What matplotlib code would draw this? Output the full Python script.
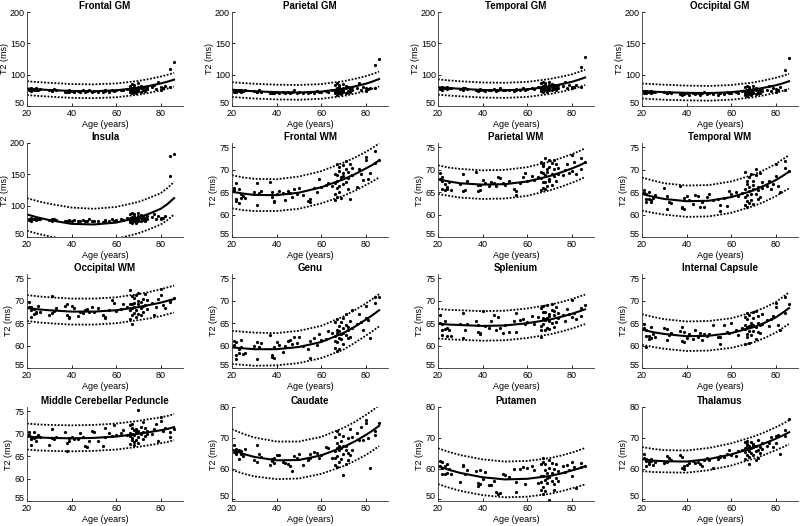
import numpy as np
import matplotlib
matplotlib.use("Agg")
import matplotlib.pyplot as plt
import matplotlib.transforms as mtransforms

plt.rcParams['font.family'] = ['Liberation Sans', 'DejaVu Sans']

# subject ages (shared by all regions)
ages = [21, 21, 22, 22, 22, 23, 23, 24, 24, 25, 26,
        30, 31, 31, 32, 33,
        37, 38, 38, 39, 39, 40, 41,
        43, 44, 45, 46, 47, 48, 49, 50,
        52, 54, 55, 55, 57, 58, 59, 60,
        62, 63, 65,
        66, 66, 66, 66, 67, 67, 67, 67, 67, 68, 68, 68, 68, 69, 69, 69, 70, 70, 70, 70,
        71, 71, 71, 72, 72, 72, 73, 73, 74, 74,
        76, 77, 78, 79, 80, 80, 81, 82, 84, 84, 86]

# T2 values (ms) per region
frontal_gm = [77, 75, 78, 76, 74, 77, 76, 78, 75, 76, 77,
              75, 76, 74, 77, 75,
              73, 74, 72, 75, 73, 74, 72,
              74, 73, 75, 72, 74, 76, 73, 74,
              73, 72, 75, 74, 73, 76, 74, 75,
              76, 75, 77,
              72, 78, 82, 75, 70, 74, 79, 85, 77, 73, 76, 81, 84, 71, 78, 75, 80, 74, 77, 86,
              73, 79, 82, 76, 75, 80, 78, 74, 81, 77,
              80, 84, 77, 88, 75, 81, 79, 82, 109, 80, 121]
parietal_gm = [75, 73, 76, 74, 72, 75, 74, 76, 73, 74, 75,
               74, 73, 72, 75, 73,
               71, 72, 70, 73, 71, 72, 70,
               72, 71, 73, 70, 72, 75, 71, 72,
               71, 70, 73, 72, 71, 74, 72, 73,
               74, 73, 76,
               70, 76, 84, 73, 68, 72, 78, 86, 75, 71, 74, 80, 83, 69, 77, 73, 79, 72, 75, 85,
               71, 78, 82, 74, 73, 80, 77, 72, 81, 76,
               78, 86, 75, 80, 74, 78, 77, 79, 115, 78, 125]
temporal_gm = [79, 77, 80, 78, 76, 79, 78, 80, 77, 78, 79,
               77, 78, 76, 79, 77,
               75, 76, 74, 77, 75, 76, 74,
               76, 75, 77, 74, 76, 78, 75, 76,
               75, 74, 77, 76, 75, 78, 76, 77,
               78, 77, 80,
               74, 80, 86, 77, 72, 76, 82, 88, 79, 75, 78, 84, 86, 73, 80, 77, 83, 76, 79, 88,
               75, 81, 85, 78, 77, 83, 80, 76, 84, 79,
               82, 88, 79, 84, 78, 81, 80, 84, 113, 80, 128]
occipital_gm = [73, 71, 74, 72, 70, 73, 72, 74, 71, 72, 73,
                72, 71, 70, 73, 71,
                69, 70, 68, 71, 69, 70, 68,
                70, 69, 71, 68, 70, 73, 69, 70,
                69, 68, 71, 70, 69, 72, 70, 71,
                72, 71, 74,
                68, 74, 80, 71, 66, 70, 76, 82, 73, 69, 72, 78, 80, 67, 75, 71, 77, 70, 73, 82,
                69, 76, 79, 72, 71, 77, 75, 70, 78, 74,
                76, 82, 74, 78, 72, 77, 75, 80, 107, 76, 127]
insula = [79, 77, 80, 78, 76, 79, 78, 80, 77, 78, 79,
          77, 78, 76, 79, 77,
          75, 76, 74, 77, 75, 76, 77,
          76, 75, 77, 76, 76, 78, 75, 76,
          75, 74, 77, 76, 75, 78, 76, 77,
          78, 77, 80,
          74, 80, 86, 77, 72, 76, 82, 88, 79, 75, 78, 84, 86, 73, 80, 77, 83, 76, 79, 88,
          75, 81, 85, 78, 77, 83, 80, 76, 84, 79,
          82, 86, 79, 84, 78, 81, 80, 84, 147, 180, 183]
frontal_wm = [66.0, 65.5, 63.4, 63.0, 67.1, 65.8, 62.5, 64.6, 63.8, 64.1, 63.7,
              65.0, 62.2, 67.0, 64.9, 65.3,
              67.2, 65.0, 64.0, 63.0, 62.8, 64.7, 65.2,
              64.9, 63.2, 65.3, 64.8, 64.0, 65.8, 64.6, 66.0,
              64.4, 63.0, 63.4, 62.8, 66.0, 65.0, 68.0, 66.2,
              66.6, 67.0, 66.4,
              63.2, 64.5, 69.0, 67.1, 71.3, 65.9, 68.8, 64.0, 67.6, 70.7, 66.4, 69.8, 65.0, 68.4, 63.7, 67.9,
              71.1, 69.3, 66.9, 68.6, 70.3, 67.2, 72.0, 68.1, 65.7, 69.6, 71.2, 63.5, 68.9, 70.4,
              66.2, 70.2, 69.0, 67.7, 72.9, 72.3, 67.9, 69.3, 74.3, 71.5, 72.2]
parietal_wm = [68.0, 69.3, 65.8, 67.5, 68.4, 65.6, 66.9, 66.2, 65.7, 67.2, 65.5,
               66.9, 69.0, 65.3, 65.6, 67.5,
               69.6, 66.7, 65.2, 65.5, 66.6, 67.8, 67.0,
               66.3, 67.3, 67.0, 66.5, 68.4, 68.1, 67.0, 66.7,
               67.4, 65.8, 64.4, 65.2, 67.0, 68.5, 69.2, 67.6,
               68.7, 67.7, 68.3,
               65.5, 69.6, 71.8, 68.2, 66.0, 70.8, 67.3, 69.4, 71.4, 65.8, 68.9, 72.6, 67.2, 70.1, 66.3, 69.5,
               72.2, 68.0, 70.7, 67.5, 69.0, 71.6, 66.6, 68.6, 72.2, 70.3, 67.6, 71.3, 69.1, 70.5,
               68.9, 70.0, 71.2, 69.4, 73.3, 69.8, 71.7, 69.1, 72.6, 70.3, 71.8]
temporal_wm = [64.8, 65.5, 63.4, 64.6, 62.8, 63.6, 65.0, 63.3, 62.9, 63.7, 64.3,
               65.9, 61.2, 64.2, 62.8, 62.5,
               66.5, 61.7, 61.5, 61.2, 63.7, 64.2, 63.3,
               62.4, 64.4, 64.2, 61.8, 62.9, 61.8, 63.9, 64.7,
               63.3, 63.5, 62.2, 60.8, 63.8, 62.0, 65.3, 64.6,
               65.0, 64.1, 64.9,
               62.2, 65.8, 69.6, 63.9, 61.8, 66.9, 64.4, 67.6, 63.1, 65.3, 68.3, 62.5, 66.1, 64.6, 69.1, 63.2,
               65.7, 67.4, 62.3, 66.6, 68.9, 64.5, 70.3, 65.4, 63.6, 66.2, 69.3, 64.0, 67.3, 66.0,
               66.4, 67.6, 65.8, 66.9, 71.2, 68.6, 66.3, 65.1, 71.9, 70.4, 69.8]
occipital_wm = [68.7, 69.7, 66.5, 68.6, 67.9, 68.2, 67.0, 67.5, 67.2, 68.9, 67.6,
                66.8, 71.0, 67.2, 67.8, 68.3,
                68.9, 69.2, 66.9, 66.4, 66.1, 68.8, 68.5,
                66.6, 67.5, 67.2, 67.9, 68.2, 67.4, 68.6, 67.6,
                68.5, 66.9, 66.2, 66.5, 68.0, 70.2, 69.6, 67.8,
                68.1, 69.3, 68.6,
                66.0, 69.2, 72.4, 67.9, 68.4, 71.0, 66.8, 69.3, 64.8, 68.7, 70.6, 67.2, 69.6, 68.0, 71.2, 66.5,
                69.4, 70.0, 67.0, 71.8, 68.3, 69.7, 66.9, 70.5, 68.9, 67.4, 71.5, 69.0, 68.2, 70.3,
                69.5, 66.9, 68.7, 70.5, 72.7, 71.3, 69.0, 68.5, 70.1, 69.8, 70.7]
genu = [60.2, 61.0, 57.8, 60.7, 57.0, 58.4, 59.3, 61.2, 59.7, 58.2, 58.3,
        60.0, 57.0, 60.8, 59.6, 60.6,
        62.3, 58.0, 57.5, 59.8, 57.2, 60.8, 60.1,
        58.6, 59.9, 61.0, 61.3, 60.4, 61.9, 60.6, 62.0,
        59.9, 59.2, 57.3, 61.1, 61.8, 60.1, 62.5, 61.2,
        61.5, 63.2, 62.8,
        59.5, 62.1, 65.2, 61.0, 58.9, 63.6, 60.9, 62.8, 65.9, 61.8, 64.4, 59.3, 63.2, 62.6, 65.3, 61.4,
        63.9, 66.1, 60.4, 62.9, 64.7, 62.3, 67.0, 63.5, 61.7, 64.2, 65.6, 62.0, 68.0, 63.9,
        64.9, 67.1, 65.3, 63.5, 68.8, 66.1, 65.7, 61.8, 70.9, 69.6, 70.8]
splenium = [66.9, 65.0, 62.4, 64.8, 63.6, 65.4, 63.7, 62.2, 64.0, 63.4, 62.1,
            64.9, 61.8, 67.2, 63.4, 64.8,
            65.6, 64.7, 63.0, 62.6, 62.9, 67.7, 64.4,
            64.0, 65.6, 66.8, 63.4, 66.3, 64.0, 62.8, 64.6,
            63.0, 65.4, 63.1, 67.3, 65.8, 66.0, 64.9, 65.2,
            66.6, 64.9, 66.3,
            62.0, 64.3, 68.5, 63.4, 65.9, 67.6, 66.2, 64.8, 68.9, 63.6, 66.0, 65.7, 67.5, 64.0, 69.0, 66.1,
            65.5, 67.0, 63.8, 66.6, 68.0, 65.0, 69.3, 66.8, 64.2, 67.7, 65.3, 68.6, 66.1, 67.2,
            66.8, 65.5, 68.1, 67.0, 70.2, 66.5, 67.3, 65.9, 66.7, 68.4, 69.1]
internal_capsule = [63.9, 64.8, 62.2, 59.7, 63.5, 61.4, 62.1, 64.2, 61.8, 62.7, 62.0,
                    64.0, 61.2, 63.8, 62.4, 62.9,
                    63.3, 64.1, 61.0, 60.8, 63.0, 61.6, 62.5,
                    61.5, 63.4, 62.0, 62.8, 61.2, 62.5, 62.2, 62.6,
                    64.6, 62.0, 60.3, 61.9, 64.5, 63.1, 62.8, 65.0,
                    63.6, 62.4, 64.0,
                    60.3, 63.8, 66.4, 64.5, 61.9, 67.3, 64.2, 62.6, 65.9, 64.4, 60.6, 63.2, 66.9, 64.4, 62.3, 65.1,
                    67.5, 63.3, 64.6, 66.2, 61.4, 64.2, 67.8, 65.0, 63.1, 66.6, 64.5, 62.9, 67.1, 64.8,
                    65.7, 64.3, 66.0, 66.6, 69.6, 68.7, 64.5, 63.6, 70.9, 67.3, 69.3]
mcp = [69.8, 70.5, 67.6, 69.2, 68.9, 70.5, 69.0, 68.5, 69.4, 69.8, 69.3,
       67.5, 71.0, 69.0, 68.8, 69.4,
       70.4, 68.0, 66.1, 69.0, 68.4, 69.2, 68.8,
       68.8, 70.2, 69.3, 67.3, 67.0, 68.3, 70.6, 70.4,
       68.4, 67.2, 69.2, 71.3, 70.3, 69.5, 72.0, 69.8,
       70.1, 70.9, 69.7,
       67.8, 70.3, 72.0, 69.5, 68.6, 71.4, 70.0, 69.0, 72.3, 68.2, 70.8, 67.6, 69.7, 71.0, 68.7, 70.4,
       75.3, 69.4, 70.6, 67.9, 71.6, 69.9, 70.2, 68.9, 72.7, 70.5, 69.6, 71.2, 70.0, 70.7,
       70.0, 71.0, 72.3, 68.5, 73.7, 72.9, 70.6, 71.2, 69.2, 70.4, 71.0]
caudate = [65.5, 67.8, 64.9, 66.3, 65.2, 63.0, 66.1, 64.6, 65.8, 64.2, 66.3,
           62.7, 62.0, 67.6, 64.6, 63.8,
           61.2, 63.2, 62.6, 61.8, 63.5, 64.3, 64.5,
           62.2, 61.8, 61.6, 60.9, 59.3, 64.1, 63.3, 64.8,
           61.2, 62.8, 64.9, 63.3, 65.4, 65.1, 63.6, 64.5,
           67.1, 66.8, 63.4,
           61.1, 65.8, 70.2, 63.4, 60.6, 66.7, 72.2, 64.1, 68.3, 62.0, 67.5, 71.3, 65.9, 69.0, 63.2, 66.8,
           57.9, 67.4, 64.6, 70.5, 66.0, 61.4, 67.2, 69.8, 62.8, 65.1, 73.0, 64.4, 66.2, 70.3,
           71.5, 69.4, 73.4, 69.2, 75.9, 74.8, 69.8, 60.2, 72.1, 71.0, 74.7]
putamen = [62.4, 61.0, 60.2, 58.4, 62.0, 58.3, 60.7, 58.5, 61.5, 60.0, 58.2,
           55.8, 61.0, 61.3, 58.1, 59.7,
           59.2, 54.5, 55.4, 54.9, 59.6, 56.6, 58.9,
           54.8, 54.8, 56.1, 52.5, 51.7, 52.0, 58.4, 57.9,
           57.4, 60.0, 52.3, 55.7, 60.0, 60.6, 54.9, 60.2,
           61.0, 59.7, 55.3,
           53.2, 57.7, 61.4, 55.7, 51.9, 62.1, 57.5, 54.1, 63.6, 56.3, 59.4, 52.6, 61.5, 56.9, 55.3, 58.7,
           62.7, 57.2, 49.7, 60.3, 56.0, 61.9, 58.6, 55.1, 59.9, 53.2, 61.6, 57.0, 59.3, 56.1,
           60.7, 58.8, 61.2, 59.5, 62.2, 57.6, 60.4, 53.6, 61.7, 60.5, 60.9]
thalamus = [63.6, 64.8, 62.4, 61.0, 63.1, 62.2, 61.4, 62.6, 63.0, 61.3, 62.1,
            61.8, 64.0, 62.0, 63.4, 62.7,
            64.3, 63.7, 60.3, 59.9, 60.8, 61.2, 61.7,
            62.5, 61.8, 62.2, 61.6, 60.9, 62.7, 63.3, 62.8,
            60.3, 63.2, 63.7, 64.1, 63.9, 64.8, 65.9, 64.5,
            64.2, 65.6, 66.0,
            63.0, 66.8, 68.8, 65.4, 67.2, 69.0, 64.5, 66.3, 68.1, 61.5, 65.6, 67.5, 63.9, 66.6, 68.6, 65.2,
            67.8, 64.3, 66.9, 68.0, 62.7, 65.8, 67.4, 63.6, 66.1, 69.3, 67.0, 65.0, 68.4, 66.4,
            67.5, 68.2, 70.4, 67.0, 70.6, 68.3, 70.8, 64.9, 70.5, 72.4, 76.2]

# quadratic fit and prediction band, read at these ages
curve_ages = [20, 25, 30, 40, 50, 60, 70, 75, 80, 83, 86]
fit_frontal_gm = [78, 76.6, 75.5, 74, 73.5, 75, 79, 82.2, 86, 88.8, 92]
up_frontal_gm = [89.5, 88.1, 87, 85, 84.5, 86, 90, 93.2, 97, 99.8, 103]
lo_frontal_gm = [67.5, 66.1, 65, 63, 62.5, 64, 68, 71.2, 75, 77.8, 81]
fit_parietal_gm = [76, 74.6, 73.5, 72, 71.5, 73, 77.5, 81.2, 85.5, 89, 93]
up_parietal_gm = [88, 86.6, 85.5, 84, 83.5, 85, 89.5, 93.2, 97.5, 101, 105]
lo_parietal_gm = [64.5, 63.1, 62, 60.5, 60, 61.5, 66, 69.7, 74, 77.5, 81]
fit_temporal_gm = [80, 78.6, 77.5, 75.5, 75, 76.5, 81, 84.5, 88.5, 91.8, 95.5]
up_temporal_gm = [92.5, 90.8, 89.5, 87.5, 87, 88.5, 93, 96.5, 100.5, 104, 108]
lo_temporal_gm = [68, 66.6, 65.5, 63.5, 63, 64.5, 69, 72.5, 76.5, 79.8, 83.5]
fit_occipital_gm = [74, 72.9, 72, 71, 70.5, 72, 76, 79.3, 83, 86, 89.5]
up_occipital_gm = [86, 84.9, 84, 82.5, 82, 83.5, 87.5, 91, 95, 98, 101.5]
lo_occipital_gm = [62, 60.9, 60, 59, 58.5, 60, 64, 67.3, 71, 74, 77.5]
fit_insula = [86, 81, 77, 71, 70, 73, 81, 87.5, 95, 102.5, 112]
up_insula = [112, 107, 103, 97, 95, 98, 106, 112.5, 120, 128, 138]
lo_insula = [60, 55, 51, 45, 44, 47, 56, 62.5, 70, 77, 86]
fit_frontal_wm = [65.1, 64.7, 64.4, 64.35, 64.9, 66.1, 67.9, 69.0, 70.3, 71.1, 72.1]
up_frontal_wm = [68.8, 68.3, 68.0, 67.9, 68.5, 69.7, 71.6, 72.7, 74.0, 74.9, 75.9]
lo_frontal_wm = [61.4, 61.0, 60.8, 60.8, 61.3, 62.5, 64.2, 65.3, 66.6, 67.4, 68.3]
fit_parietal_wm = [67.9, 67.4, 67.0, 66.7, 66.8, 67.4, 68.6, 69.4, 70.3, 70.9, 71.6]
up_parietal_wm = [71.0, 70.5, 70.2, 69.9, 70.0, 70.6, 71.8, 72.6, 73.5, 74.1, 74.8]
lo_parietal_wm = [64.6, 64.2, 63.8, 63.5, 63.6, 64.2, 65.4, 66.2, 67.1, 67.7, 68.4]
fit_temporal_wm = [64.6, 64.0, 63.5, 63.0, 63.1, 63.9, 65.4, 66.5, 67.7, 68.6, 69.6]
up_temporal_wm = [68.3, 67.6, 67.0, 66.5, 66.6, 67.4, 68.9, 70.0, 71.3, 72.3, 73.3]
lo_temporal_wm = [60.9, 60.4, 60.0, 59.5, 59.6, 60.4, 61.9, 62.9, 64.1, 65.0, 65.9]
fit_occipital_wm = [68.4, 68.1, 67.9, 67.6, 67.6, 67.9, 68.6, 69.1, 69.6, 70.0, 70.4]
up_occipital_wm = [71.3, 71.0, 70.8, 70.5, 70.5, 70.8, 71.5, 72.0, 72.6, 73.0, 73.4]
lo_occipital_wm = [65.5, 65.2, 65.0, 64.7, 64.7, 65.0, 65.7, 66.1, 66.6, 67.0, 67.4]
fit_genu = [59.6, 59.4, 59.2, 59.2, 59.7, 60.8, 62.8, 64.2, 65.8, 66.8, 67.9]
up_genu = [63.3, 63.1, 62.9, 62.8, 63.3, 64.4, 66.5, 67.9, 69.4, 70.4, 71.5]
lo_genu = [55.9, 55.7, 55.5, 55.6, 56.1, 57.2, 59.1, 60.6, 62.2, 63.2, 64.3]
fit_splenium = [64.9, 64.7, 64.6, 64.4, 64.5, 65.0, 65.8, 66.4, 67.1, 67.6, 68.1]
up_splenium = [68.2, 68.0, 67.9, 67.7, 67.8, 68.3, 69.1, 69.7, 70.4, 70.9, 71.4]
lo_splenium = [61.6, 61.4, 61.3, 61.1, 61.2, 61.7, 62.5, 63.1, 63.8, 64.3, 64.8]
fit_internal_capsule = [63.6, 63.0, 62.6, 62.1, 62.2, 62.8, 64.1, 65.1, 66.3, 67.3, 68.4]
up_internal_capsule = [67.0, 66.4, 65.9, 65.4, 65.5, 66.1, 67.5, 68.5, 69.7, 70.8, 71.9]
lo_internal_capsule = [60.2, 59.7, 59.3, 58.8, 58.9, 59.5, 60.7, 61.7, 62.9, 63.9, 64.9]
fit_mcp = [69.4, 69.2, 69.1, 69.0, 69.1, 69.4, 70.0, 70.4, 70.8, 71.1, 71.5]
up_mcp = [72.3, 72.1, 72.0, 71.9, 72.0, 72.3, 72.9, 73.3, 73.7, 74.0, 74.4]
lo_mcp = [66.5, 66.3, 66.2, 66.1, 66.2, 66.5, 67.1, 67.5, 67.9, 68.2, 68.6]
fit_caudate = [66.2, 64.8, 63.8, 62.7, 62.8, 64.3, 67.0, 68.8, 70.9, 72.3, 73.9]
up_caudate = [72.8, 71.3, 70.1, 68.8, 68.8, 70.3, 73.2, 75.1, 77.4, 78.9, 80.5]
lo_caudate = [59.6, 58.4, 57.5, 56.6, 56.8, 58.3, 60.8, 62.5, 64.4, 65.8, 67.3]
fit_putamen = [60.8, 59.6, 58.6, 57.2, 56.5, 56.7, 57.6, 58.4, 59.4, 60.0, 60.8]
up_putamen = [66.6, 65.4, 64.4, 63.0, 62.3, 62.5, 63.4, 64.2, 65.2, 65.9, 66.7]
lo_putamen = [55.0, 53.8, 52.8, 51.4, 50.7, 50.9, 51.8, 52.6, 53.6, 54.2, 54.9]
fit_thalamus = [63.1, 62.6, 62.4, 62.3, 63.1, 64.6, 66.8, 68.2, 69.7, 70.7, 71.8]
up_thalamus = [67.0, 66.4, 66.0, 65.9, 66.7, 68.2, 70.4, 71.8, 73.4, 74.5, 75.7]
lo_thalamus = [59.2, 58.9, 58.8, 58.7, 59.5, 61.0, 63.2, 64.5, 66.0, 66.9, 67.9]

titles = ['Frontal GM', 'Parietal GM', 'Temporal GM', 'Occipital GM',
          'Insula', 'Frontal WM', 'Parietal WM', 'Temporal WM',
          'Occipital WM', 'Genu', 'Splenium', 'Internal Capsule',
          'Middle Cerebellar Peduncle', 'Caudate', 'Putamen', 'Thalamus']
values = [frontal_gm, parietal_gm, temporal_gm, occipital_gm,
          insula, frontal_wm, parietal_wm, temporal_wm,
          occipital_wm, genu, splenium, internal_capsule,
          mcp, caudate, putamen, thalamus]
fits = [fit_frontal_gm, fit_parietal_gm, fit_temporal_gm, fit_occipital_gm,
        fit_insula, fit_frontal_wm, fit_parietal_wm, fit_temporal_wm,
        fit_occipital_wm, fit_genu, fit_splenium, fit_internal_capsule,
        fit_mcp, fit_caudate, fit_putamen, fit_thalamus]
uppers = [up_frontal_gm, up_parietal_gm, up_temporal_gm, up_occipital_gm,
          up_insula, up_frontal_wm, up_parietal_wm, up_temporal_wm,
          up_occipital_wm, up_genu, up_splenium, up_internal_capsule,
          up_mcp, up_caudate, up_putamen, up_thalamus]
lowers = [lo_frontal_gm, lo_parietal_gm, lo_temporal_gm, lo_occipital_gm,
          lo_insula, lo_frontal_wm, lo_parietal_wm, lo_temporal_wm,
          lo_occipital_wm, lo_genu, lo_splenium, lo_internal_capsule,
          lo_mcp, lo_caudate, lo_putamen, lo_thalamus]

gm_ticks = [50, 100, 150, 200]
wm_ticks = [55, 60, 65, 70, 75]
deep_ticks = [50, 60, 70, 80]

fig = plt.figure(figsize=(8, 5.26), dpi=100)
W, H = 800, 526
lefts = [27, 232, 438, 642]
bottoms = [106, 237, 368, 501]
aw, ah = 156, 94
nudge_up = mtransforms.ScaledTranslation(0, 2.5 / 72, fig.dpi_scale_trans)

for i, title in enumerate(titles):
    r, c = divmod(i, 4)
    ax = fig.add_axes([lefts[c] / W, 1 - bottoms[r] / H, aw / W, ah / H])
    ax.plot(ages, values[i], 'o', color='black', ms=2.3, mew=0)
    ax.plot(curve_ages, fits[i], '-', color='black', lw=1.5)
    ax.plot(curve_ages, uppers[i], color='black', lw=1.3, ls=(0, (1, 0.9)))
    ax.plot(curve_ages, lowers[i], color='black', lw=1.3, ls=(0, (1, 0.9)))

    if i < 5:
        ax.set_ylim(50, 200)
        ax.set_yticks(gm_ticks)
    elif i < 13:
        ax.set_ylim(55, 76)
        ax.set_yticks(wm_ticks)
    else:
        ax.set_ylim(49.5, 80)
        ax.set_yticks(deep_ticks)
    ax.set_xlim(20, 90)
    ax.set_xticks([20, 40, 60, 80])

    ax.set_title(title, fontsize=7, fontweight='bold', pad=2)
    ax.set_xlabel('Age (years)', fontsize=6.5, labelpad=1)
    ax.set_ylabel('T2 (ms)', fontsize=6.5, labelpad=1)
    ax.tick_params(labelsize=6.5, direction='in', length=2, width=0.6)
    ax.tick_params(axis='x', pad=2.5)
    ax.tick_params(axis='y', pad=1.5)
    # lift the lowest y label off the x tick labels
    first = ax.get_yticklabels()[0]
    first.set_transform(first.get_transform() + nudge_up)
    for s in ['top', 'right']:
        ax.spines[s].set_visible(False)
    for s in ['left', 'bottom']:
        ax.spines[s].set_linewidth(0.6)
        ax.spines[s].set_color('#333333')

fig.savefig('out.png', dpi=100)
